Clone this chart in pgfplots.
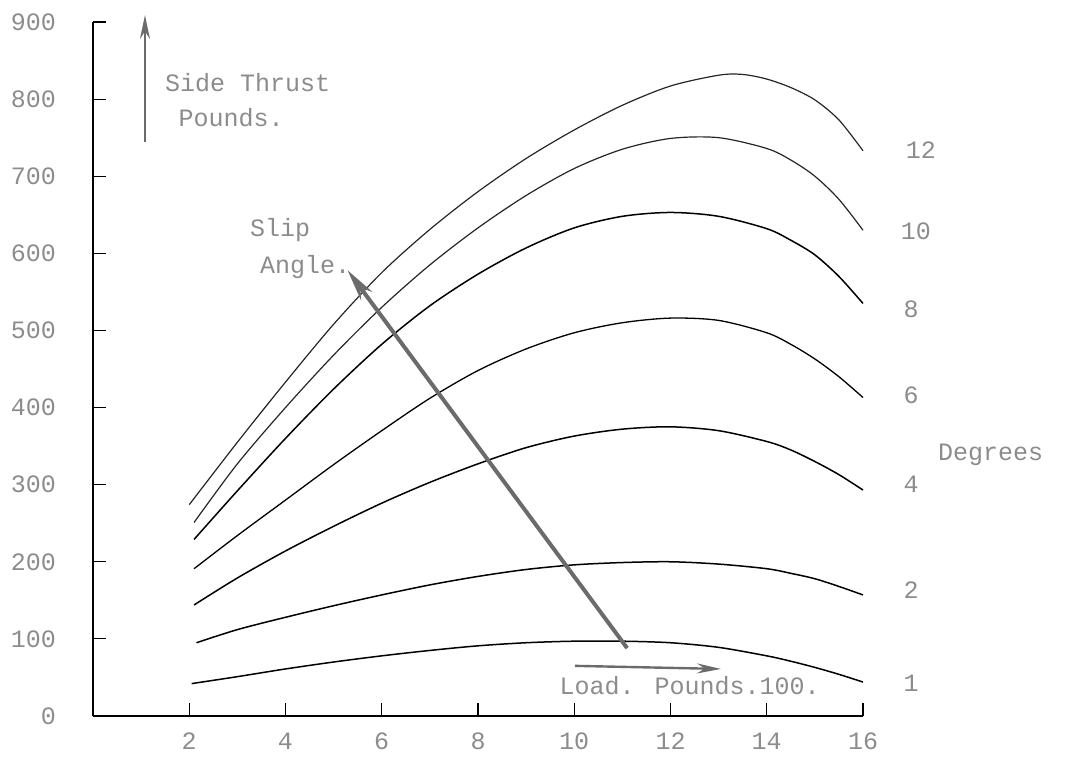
\documentclass[border=0pt]{standalone}
\usepackage{pgfplots}
\pgfplotsset{compat=1.18}
\usepackage{fontspec}
\setmainfont{Liberation Mono}
\usetikzlibrary{arrows.meta}
\definecolor{txt}{gray}{0.55}
\definecolor{arr}{gray}{0.42}
\begin{document}
\begin{tikzpicture}[font=\fontsize{12.5}{14}\selectfont]
\useasboundingbox (-46.5pt,-21pt) rectangle (492.5pt,358pt);
\begin{axis}[
  at={(0pt,0pt)}, anchor=origin,
  scale only axis, width=385pt, height=347pt,
  xmin=0, xmax=16, ymin=0, ymax=900,
  axis x line*=bottom, axis y line*=left,
  xtick={2,4,...,16}, ytick={0,100,...,900},
  tick align=inside, major tick length=6.5pt,
  tick style={black, line width=0.6pt},
  axis line style={black, line width=0.7pt},
  ticklabel style={txt, font=\fontsize{12.5}{14}\selectfont},
  yticklabel style={xshift=-15pt},
  xticklabel style={yshift=-5pt},
  /pgf/number format/assume math mode=true,
  clip=false,
]
% 1 degree
\addplot[black, line width=0.75pt, smooth] coordinates {
 (2.05,42) (3,51) (4,61) (5,70) (6,78) (7,85) (8,91) (9,95) (10,97) (11,97) (12,95) (13,89) (14,78) (14.5,71) (15,63) (15.5,54) (16,44)};
% 2 degrees
\addplot[black, line width=0.75pt, smooth] coordinates {
 (2.15,95) (3,112) (4,128) (5,143) (6,157) (7,170) (8,181) (9,190) (10,196) (11,199) (12,200) (13,197) (14,191) (14.5,185) (15,178) (15.5,168) (16,157)};
% 4 degrees
\addplot[black, line width=0.75pt, smooth] coordinates {
 (2.1,144) (3,179) (4,214) (5,246) (6,276) (7,303) (8,327) (9,348) (10,363) (11,372) (12,375) (13,370) (14,356) (14.5,345) (15,330) (15.5,313) (16,293)};
% 6 degrees
\addplot[black, line width=0.65pt, smooth] coordinates {
 (2.1,191) (3,234) (4,280) (5,326) (6,370) (7,412) (8,448) (9,476) (10,497) (11,510) (12,516) (13,513) (14,497) (14.5,482) (15,463) (15.5,440) (16,413)};
% 8 degrees
\addplot[black, line width=0.75pt, smooth] coordinates {
 (2.1,229) (3,292) (4,360) (5,424) (6,482) (7,532) (8,573) (9,607) (10,633) (11,648) (12,653) (13,648) (14,632) (14.5,617) (15,598) (15.5,570) (16,535)};
% 10 degrees
\addplot[black!85, line width=0.6pt, smooth] coordinates {
 (2.1,251) (3,327) (4,400) (5,468) (6,530) (7,585) (8,633) (9,675) (10,710) (11,735) (12,749) (13,750) (14,736) (14.5,721) (15,700) (15.5,670) (16,630)};
% 12 degrees
\addplot[black!85, line width=0.6pt, smooth] coordinates {
 (2.0,274) (3,355) (4,433) (5,508) (6,575) (7,631) (8,680) (9,723) (10,760) (11,792) (12,817) (13,831) (13.5,832) (14,826) (14.5,815) (15,799) (15.5,773) (16,733)};
% arrows
\addplot[arr, line width=2pt, -{Stealth[length=16pt,width=7pt]}] coordinates {(11.1,88) (5.29,578)};
\addplot[arr, line width=1.2pt, -{Stealth[length=12pt,width=5pt]}] coordinates {(1.08,744) (1.08,909)};
\addplot[arr, line width=1.2pt, -{Stealth[length=12pt,width=5pt]}] coordinates {(10.02,65) (13.05,61)};
% texts
\node[txt, anchor=west] at (axis cs:1.35,821) {Side Thrust};
\node[txt, anchor=west] at (axis cs:1.63,776) {Pounds.};
\node[txt] at (axis cs:3.89,630) {Slip};
\node[txt] at (axis cs:4.41,582) {Angle.};
\node[txt, anchor=west] at (axis cs:9.55,40) {Load. Pounds.100.};
\node[txt] at (axis cs:17.2,734) {12};
\node[txt] at (axis cs:17.1,628) {10};
\node[txt] at (axis cs:17.0,527) {8};
\node[txt] at (axis cs:17.0,416) {6};
\node[txt] at (axis cs:17.0,300) {4};
\node[txt] at (axis cs:17.0,163) {2};
\node[txt] at (axis cs:17.0,43) {1};
\node[txt] at (axis cs:18.65,339) {Degrees};
\end{axis}
\end{tikzpicture}
\end{document}
